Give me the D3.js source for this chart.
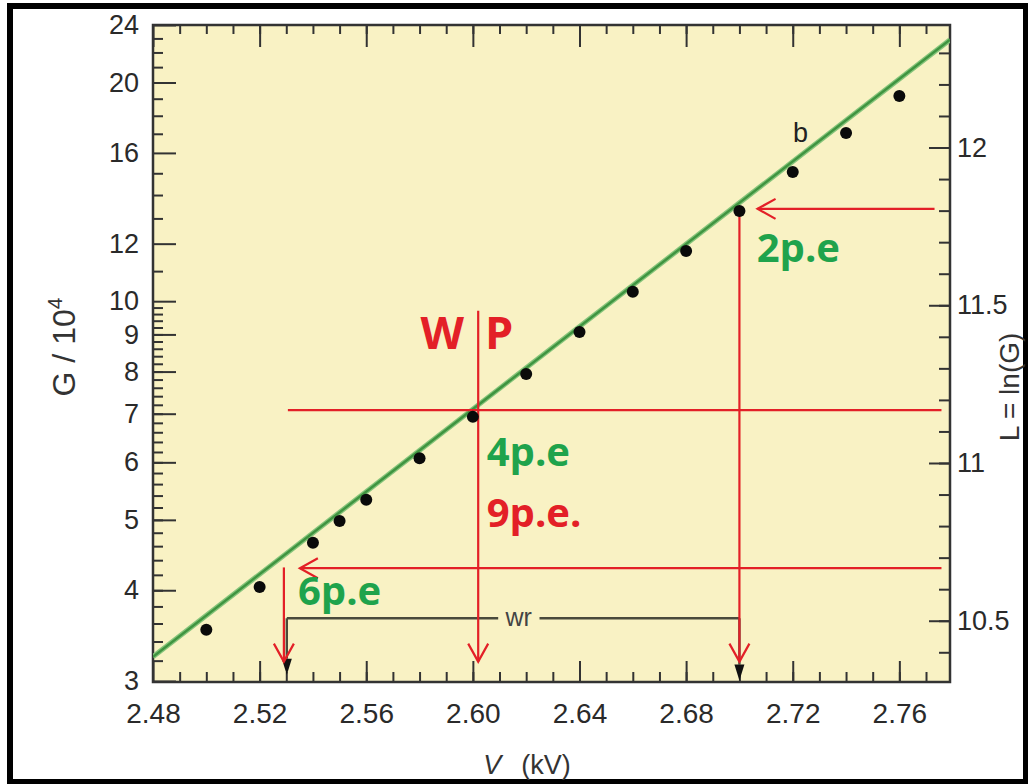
<!DOCTYPE html>
<html><head><meta charset="utf-8">
<script src="https://cdn.jsdelivr.net/npm/d3@7"></script>
<style>body{margin:0;background:#fff} svg{display:block}</style>
</head><body><svg id="c" width="1028" height="784"></svg>
<script>
// ---- data ----
const voltage = [2.50, 2.52, 2.54, 2.55, 2.56, 2.58, 2.60, 2.62, 2.64, 2.66, 2.68, 2.70, 2.72, 2.74, 2.76];
const gain    = [3.53, 4.04, 4.65, 4.98, 5.33, 6.08, 6.93, 7.94, 9.07, 10.3, 11.72, 13.31, 15.06, 17.04, 19.16];
const fitV = [2.48, 2.779];
const fitG = [3.24, 22.9];
const vTickLabels = [2.48, 2.52, 2.56, 2.60, 2.64, 2.68, 2.72, 2.76];
const gTickLabels = [3, 4, 5, 6, 7, 8, 9, 10, 12, 16, 20, 24];
const lTickLabels = [10.5, 11, 11.5, 12];
// red annotation segments: [v1, g1, v2, g2, arrowhead at end]
const redSegments = [
  [2.602, 9.7, 2.602, 3.19, true],
  [2.5306, 7.08, 2.7758, 7.08, false],
  [2.700, 13.3, 2.700, 3.19, true],
  [2.7732, 13.4, 2.7068, 13.4, true],
  [2.7758, 4.29, 2.5351, 4.29, true],
  [2.5291, 4.30, 2.5291, 3.19, true]
];
// black "wr" bracket: [v1, g1, v2, g2, triangle at end]
const wrSegments = [
  [2.5302, 3.66, 2.6095, 3.66, false],
  [2.6250, 3.66, 2.7000, 3.66, false],
  [2.5302, 3.66, 2.5302, 3.22, true],
  [2.7000, 3.66, 2.7000, 3.16, true]
];
const greenLabels = [["2p.e", 2.7065, 11.32], ["4p.e", 2.6052, 5.93], ["6p.e", 2.5344, 3.82]];
const redLabels = [["9p.e.", 2.6052, 4.89]];

// ---- layout ----
const L = 153, R = 950, T = 25, B = 682;
const svg = d3.select("#c");
const x = d3.scaleLinear().domain([2.48, 2.779]).range([L, R]);
const y = d3.scaleLog().domain([3, 24]).range([681, T]);
const yL = d3.scaleLinear().domain([Math.log(3e4), Math.log(24e4)]).range([681, T]);

// outer black frame
svg.append("rect").attr("x", 10).attr("y", 6).attr("width", 1016).attr("height", 776)
  .attr("fill", "#fff").attr("stroke", "#000").attr("stroke-width", 6);

// plot background
svg.append("rect").attr("x", L).attr("y", T).attr("width", R - L).attr("height", B - T)
  .attr("fill", "#f9f2c4");

const font = "'Liberation Sans', Arial, Helvetica, sans-serif";
function styleAxis(g, size) {
  g.select(".domain").remove();
  g.selectAll(".tick line").attr("stroke", "#333").attr("stroke-width", 2);
  g.selectAll(".tick text").attr("fill", "#2a2a2a").attr("font-size", size).attr("font-family", font);
}
const vMinor = d3.range(2.49, 2.775, 0.01);
const gMinor = d3.range(3.2, 9.9, 0.2).concat([11, 13, 14, 15, 17, 18, 19, 21, 22, 23]);
const lMinor = d3.range(10.4, 12.35, 0.1);

// bottom
svg.append("g").attr("transform", `translate(0,${B})`)
  .call(d3.axisBottom(x).tickValues(vMinor).tickSize(-10).tickFormat(""))
  .call(g => styleAxis(g, 26));
svg.append("g").attr("transform", `translate(0,${B})`)
  .call(d3.axisBottom(x).tickValues(vTickLabels).tickSize(-21).tickPadding(21).tickFormat(d3.format(".2f")))
  .call(g => styleAxis(g, 28));
// top
svg.append("g").attr("transform", `translate(0,${T})`)
  .call(d3.axisTop(x).tickValues(vMinor).tickSize(-9).tickFormat(""))
  .call(g => styleAxis(g, 26));
svg.append("g").attr("transform", `translate(0,${T})`)
  .call(d3.axisTop(x).tickValues(vTickLabels).tickSize(-22).tickFormat(""))
  .call(g => styleAxis(g, 26));
// left
svg.append("g").attr("transform", `translate(${L},0)`)
  .call(d3.axisLeft(y).tickValues(gMinor).tickSize(-10).tickFormat(""))
  .call(g => styleAxis(g, 26));
svg.append("g").attr("transform", `translate(${L},0)`)
  .call(d3.axisLeft(y).tickValues(gTickLabels).tickSize(-23).tickPadding(14).tickFormat(d3.format("d")))
  .call(g => styleAxis(g, 27));
// right
svg.append("g").attr("transform", `translate(${R},0)`)
  .call(d3.axisRight(yL).tickValues(lMinor).tickSize(-11).tickFormat(""))
  .call(g => styleAxis(g, 26));
svg.append("g").attr("transform", `translate(${R},0)`)
  .call(d3.axisRight(yL).tickValues(lTickLabels).tickSize(-21).tickPadding(7).tickFormat(d => String(d)))
  .call(g => styleAxis(g, 27));

// plot frame
svg.append("rect").attr("x", L).attr("y", T).attr("width", R - L).attr("height", B - T)
  .attr("fill", "none").attr("stroke", "#333").attr("stroke-width", 2.5);

// clip
svg.append("clipPath").attr("id", "clip").append("rect")
  .attr("x", L).attr("y", T).attr("width", R - L).attr("height", B - T);

// fit line
const fit = fitV.map((v, i) => [v, fitG[i]]);
const line = d3.line().x(d => x(d[0])).y(d => y(d[1]));
const fg = svg.append("g").attr("clip-path", "url(#clip)");
fg.append("path").datum(fit).attr("d", line).attr("stroke", "#86c47a").attr("stroke-width", 5).attr("fill", "none");
fg.append("path").datum(fit).attr("d", line).attr("stroke", "#3f9440").attr("stroke-width", 2.4).attr("fill", "none");

// wr bracket
const wr = svg.append("g");
wrSegments.forEach(s => {
  wr.append("line").attr("x1", x(s[0])).attr("y1", y(s[1])).attr("x2", x(s[2])).attr("y2", y(s[3]))
    .attr("stroke", "#4a4a3c").attr("stroke-width", 2.4);
  if (s[4]) {
    const tx = x(s[2]), ty = y(s[3]);
    wr.append("path").attr("d", `M${tx - 5},${ty} L${tx + 5},${ty} L${tx},${ty + 16} Z`).attr("fill", "#111");
  }
});
wr.append("text").attr("x", x(2.6172)).attr("y", y(3.66)).attr("dy", "0.32em")
  .attr("text-anchor", "middle").attr("font-family", font).attr("font-size", 25).attr("fill", "#444").text("wr");

// red annotations
const red = "#e32027";
const rg = svg.append("g");
redSegments.forEach(s => {
  const x1 = x(s[0]), y1 = y(s[1]), x2 = x(s[2]), y2 = y(s[3]);
  rg.append("line").attr("x1", x1).attr("y1", y1).attr("x2", x2).attr("y2", y2)
    .attr("stroke", red).attr("stroke-width", 2.2);
  if (s[4]) {
    const a = Math.atan2(y2 - y1, x2 - x1), len = 18, hw = 10;
    const bx = x2 - len * Math.cos(a), by = y2 - len * Math.sin(a);
    const px = -Math.sin(a) * hw, py = Math.cos(a) * hw;
    rg.append("path").attr("d", `M${bx + px},${by + py} L${x2},${y2} L${bx - px},${by - py}`)
      .attr("stroke", red).attr("stroke-width", 2.2).attr("fill", "none");
  }
});

// points
svg.append("g").selectAll("circle").data(voltage).join("circle")
  .attr("cx", (d) => x(d)).attr("cy", (d, i) => y(gain[i])).attr("r", 6).attr("fill", "#0a0a0a");

// annotation text
const bold = "'Open Sans', 'Noto Sans', sans-serif";
greenLabels.forEach(t => {
  svg.append("text").attr("x", x(t[1])).attr("y", y(t[2])).attr("font-family", bold).attr("font-weight", 700)
    .attr("font-size", 40).attr("fill", "#1fa34c").text(t[0]);
});
redLabels.forEach(t => {
  svg.append("text").attr("x", x(t[1])).attr("y", y(t[2])).attr("font-family", bold).attr("font-weight", 700)
    .attr("font-size", 40).attr("fill", red).text(t[0]);
});
svg.append("text").attr("x", 464).attr("y", 349).attr("text-anchor", "end").attr("font-family", bold).attr("font-weight", 700)
  .attr("font-size", 45).attr("fill", red).text("W");
svg.append("text").attr("x", 485).attr("y", 349).attr("font-family", bold).attr("font-weight", 700)
  .attr("font-size", 45).attr("fill", red).text("P");
svg.append("text").attr("x", 793).attr("y", 142).attr("font-family", font).attr("font-size", 27).attr("fill", "#222").text("b");

// axis titles
const gt = svg.append("text").attr("transform", "translate(75,347) rotate(-90)").attr("text-anchor", "middle")
  .attr("font-family", font).attr("font-size", 32).attr("fill", "#333");
gt.append("tspan").text("G / 10");
gt.append("tspan").attr("dy", -13).attr("font-size", 21).text("4");
svg.append("text").attr("transform", "translate(1019,387) rotate(-90)").attr("text-anchor", "middle")
  .attr("font-family", font).attr("font-size", 28).attr("fill", "#333").text("L = ln(G)");
const vt = svg.append("text").attr("x", 527).attr("y", 774).attr("text-anchor", "middle")
  .attr("font-family", font).attr("font-size", 27).attr("fill", "#333");
vt.append("tspan").attr("font-style", "italic").text("V");
vt.append("tspan").attr("dx", 20).text("(kV)");
</script></body></html>
